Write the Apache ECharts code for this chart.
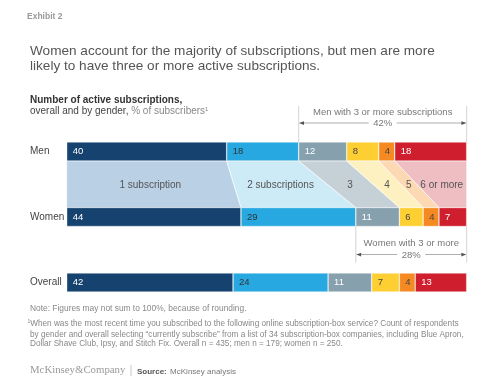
<!DOCTYPE html>
<html>
<head>
<meta charset="utf-8">
<script src="https://cdn.jsdelivr.net/npm/echarts@6/dist/echarts.min.js"></script>
<style>html,body{margin:0;padding:0;background:#fff}#c{width:500px;height:387px}</style>
</head>
<body>
<div id="c"></div>
<script>
var rows = ['Men', 'Women', 'Overall'];
var segments = ['1 subscription', '2 subscriptions', '3', '4', '5', '6 or more'];
var men = [40, 18, 12, 8, 4, 18];
var women = [44, 29, 11, 6, 4, 7];
var overall = [42, 24, 11, 7, 4, 13];
var menThreePlus = '42%';
var womenThreePlus = '28%';

var colors = ['#15426f', '#28a8e0', '#86a0ae', '#fecf32', '#f48a21', '#cf1f2e'];
var lightColors = ['#bad0e5', '#cdeaf7', '#c6d1d7', '#fdf0c1', '#fcd9b2', '#efbec3'];
var labelColors = ['#ffffff', '#333333', '#ffffff', '#444444', '#444444', '#ffffff'];
var FONT = '"Liberation Sans", Arial, Helvetica, sans-serif';
var BARW = 19;

var raw = [men, women, overall];
function norm(arr) { var s = arr.reduce(function (a, b) { return a + b; }, 0); return arr.map(function (v) { return v / s * 100; }); }
var normRows = raw.map(norm);
function cum(arr, i) { var s = 0; for (var k = 0; k < i; k++) s += arr[k]; return s; }

var series = segments.map(function (name, si) {
  return {
    type: 'bar', name: name, stack: 'all', barWidth: BARW,
    data: normRows.map(function (r) { return r[si]; }),
    itemStyle: { color: colors[si], borderColor: 'rgba(255,255,255,0.6)', borderWidth: 0.6 },
    label: {
      show: true, position: 'insideLeft', distance: 6,
      color: labelColors[si], fontFamily: FONT, fontSize: 9.5,
      formatter: function (p) { return String(raw[p.dataIndex][si]); }
    },
    silent: true, z: 3
  };
});

// connecting bands between Men and Women
series.push({
  type: 'custom', silent: true, z: 2,
  data: segments.map(function (s, i) { return [i]; }),
  renderItem: function (params, api) {
    var i = api.value(0);
    var m = normRows[0], w = normRows[1];
    var ms = cum(m, i), me = cum(m, i + 1), ws = cum(w, i), we = cum(w, i + 1);
    var yM = api.coord([0, 0])[1] + BARW / 2;
    var yW = api.coord([0, 1])[1] - BARW / 2;
    var p1 = [api.coord([ms, 0])[0], yM], p2 = [api.coord([me, 0])[0], yM];
    var p3 = [api.coord([we, 1])[0], yW], p4 = [api.coord([ws, 1])[0], yW];
    var cx = ((p1[0] + p4[0]) / 2 + (p2[0] + p3[0]) / 2) / 2;
    var cy = (yM + yW) / 2 + 1;
    return {
      type: 'group',
      children: [
        { type: 'polygon', shape: { points: [p1, p2, p3, p4] }, style: { fill: lightColors[i], stroke: '#ffffff', lineWidth: 0.6 } },
        { type: 'text', x: cx, y: cy, style: { text: segments[i], fill: '#555555', font: '10px ' + FONT, align: 'center', verticalAlign: 'middle' } }
      ]
    };
  }
});

// brackets "3 or more"
var brackets = [
  { row: 0, dir: -1, start: cum(normRows[0], 2), end: 100, lines: ['Men with 3 or more subscriptions'], pct: menThreePlus },
  { row: 1, dir: 1, start: cum(normRows[1], 2), end: 100, lines: ['Women with 3 or more'], pct: womenThreePlus }
];
series.push({
  type: 'custom', silent: true, z: 4,
  data: brackets.map(function (b, i) { return [i]; }),
  renderItem: function (params, api) {
    var b = brackets[api.value(0)];
    var yc = api.coord([0, b.row])[1];
    var edge = yc + b.dir * BARW / 2;
    var x1 = api.coord([b.start, b.row])[0], x2 = api.coord([b.end, b.row])[0];
    var far, yArrow, yText;
    if (b.dir < 0) { far = edge - 36; yArrow = edge - 19; yText = edge - 30; }
    else { far = edge + 36; yArrow = edge + 28; yText = edge + 17; }
    var mid = (x1 + x2) / 2;
    var gap = 14;
    var st = { stroke: '#9a9a9a', lineWidth: 0.8 };
    var ah = 3;
    return {
      type: 'group',
      children: [
        { type: 'line', shape: { x1: x1, y1: edge, x2: x1, y2: far }, style: { stroke: '#c8c8c8', lineWidth: 0.8 } },
        { type: 'line', shape: { x1: x2, y1: edge, x2: x2, y2: far }, style: { stroke: '#c8c8c8', lineWidth: 0.8 } },
        { type: 'line', shape: { x1: x1 + 1, y1: yArrow, x2: mid - gap, y2: yArrow }, style: st },
        { type: 'line', shape: { x1: mid + gap, y1: yArrow, x2: x2 - 1, y2: yArrow }, style: st },
        { type: 'polygon', shape: { points: [[x1 + 0.5, yArrow], [x1 + 0.5 + ah * 1.6, yArrow - ah / 1.6], [x1 + 0.5 + ah * 1.6, yArrow + ah / 1.6]] }, style: { fill: '#555' } },
        { type: 'polygon', shape: { points: [[x2 - 0.5, yArrow], [x2 - 0.5 - ah * 1.6, yArrow - ah / 1.6], [x2 - 0.5 - ah * 1.6, yArrow + ah / 1.6]] }, style: { fill: '#555' } },
        { type: 'text', x: mid, y: yText, style: { text: b.lines[0], fill: '#777777', font: '9.5px ' + FONT, align: 'center', verticalAlign: 'middle' } },
        { type: 'text', x: mid, y: yArrow + 0.5, style: { text: b.pct, fill: '#777777', font: '9.5px ' + FONT, align: 'center', verticalAlign: 'middle' } }
      ]
    };
  }
});

var chart = echarts.init(document.getElementById('c'), null, { renderer: 'canvas' });
chart.setOption({
  animation: false,
  backgroundColor: '#ffffff',
  grid: { left: 66.7, right: 33.3, top: 118.75, bottom: 71.75 },
  xAxis: { type: 'value', min: 0, max: 100, show: false },
  yAxis: {
    type: 'category', data: rows, inverse: true,
    axisLine: { show: false }, axisTick: { show: false },
    axisLabel: { align: 'left', margin: 36.7, color: '#444444', fontFamily: FONT, fontSize: 10 }
  },
  graphic: [
    { type: 'text', left: 27, top: 12, style: { text: 'Exhibit 2', fill: '#999999', font: 'bold 8.5px ' + FONT } },
    { type: 'text', left: 30, top: 44, style: { text: 'Women account for the majority of subscriptions, but men are more\nlikely to have three or more active subscriptions.', fill: '#555555', font: '13.6px ' + FONT, lineHeight: 15 } },
    { type: 'text', left: 30, top: 95, style: { text: 'Number of active subscriptions,', fill: '#333333', font: 'bold 10px ' + FONT } },
    { type: 'text', left: 30, top: 106.5, style: { rich: { a: { fill: '#444444', font: '10px ' + FONT }, b: { fill: '#888888', font: '10px ' + FONT }, s: { fill: '#888888', font: '6px ' + FONT, verticalAlign: 'top' } }, text: '{a|overall and by gender, }{b|% of subscribers}{s|1}' } },
    { type: 'text', left: 30, top: 304.5, style: { text: 'Note: Figures may not sum to 100%, because of rounding.', fill: '#888888', font: '8.4px ' + FONT } },
    { type: 'text', left: 27.5, top: 319.5, style: { rich: { s: { fill: '#888888', font: '5px ' + FONT, verticalAlign: 'top' }, t: { fill: '#888888', font: '8.2px ' + FONT } }, text: '{s|1}{t|When was the most recent time you subscribed to the following online subscription-box service? Count of respondents}' } },
    { type: 'text', left: 30, top: 329.5, style: { text: 'by gender and overall selecting \u201ccurrently subscribe\u201d from a list of 34 subscription-box companies, including Blue Apron,\nDollar Shave Club, Ipsy, and Stitch Fix. Overall n = 435; men n = 179; women n = 250.', fill: '#888888', font: '8.2px ' + FONT, lineHeight: 9.7 } },
    { type: 'text', left: 30, top: 364.5, style: { text: 'McKinsey&Company', fill: '#999999', font: '10.8px "Liberation Serif", "Times New Roman", serif' } },
    { type: 'line', shape: { x1: 131, y1: 365, x2: 131, y2: 376 }, style: { stroke: '#bbbbbb', lineWidth: 0.8 } },
    { type: 'text', left: 137, top: 366, style: { rich: { b: { fill: '#555555', font: 'bold 8px ' + FONT }, r: { fill: '#777777', font: '8px ' + FONT } }, text: '{b|Source:} {r|McKinsey analysis}' } }
  ],
  series: series
});
</script>
</body>
</html>
